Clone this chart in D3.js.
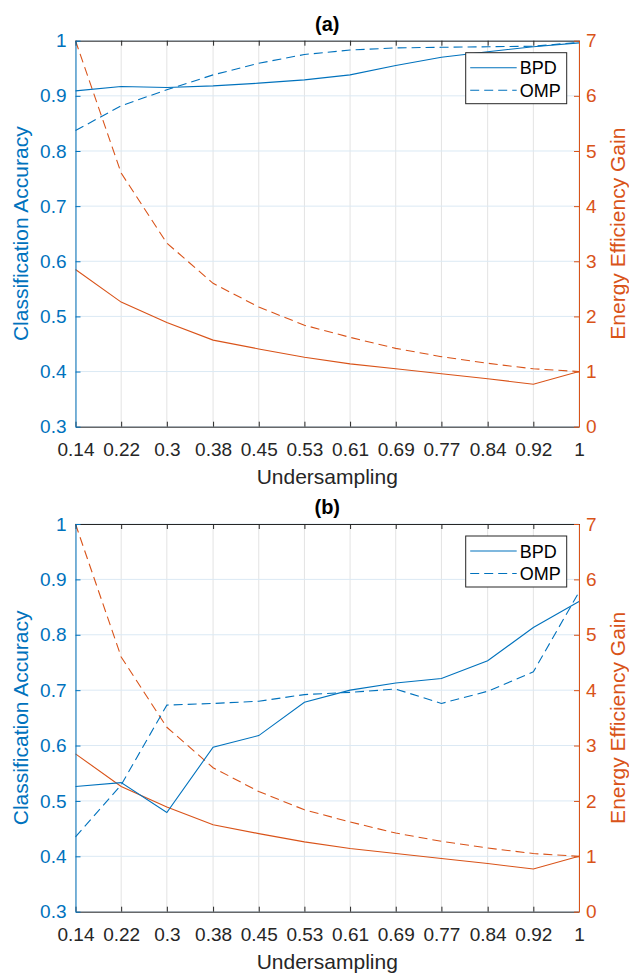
<!DOCTYPE html>
<html>
<head>
<meta charset="utf-8">
<script src="https://cdn.jsdelivr.net/npm/d3@7"></script>
<style>
  html, body { margin: 0; padding: 0; background: #fff; }
  svg { display: block; font-family: "Liberation Sans", Arial, sans-serif; }
</style>
</head>
<body>
<div id="main"></div>
<script>
// undersampling ratios (x positions) and their printed labels
const undersampling = [0.14, 0.218, 0.296, 0.375, 0.453, 0.531, 0.609, 0.687, 0.765, 0.844, 0.922, 1];
const xTickLabels = ['0.14', '0.22', '0.3', '0.38', '0.45', '0.53', '0.61', '0.69', '0.77', '0.84', '0.92', '1'];

// panel (a)
const accBpdA = [0.909, 0.917, 0.915, 0.918, 0.923, 0.929, 0.938, 0.955, 0.970, 0.980, 0.989, 0.996];
const accOmpA = [0.837, 0.882, 0.911, 0.938, 0.959, 0.975, 0.983, 0.987, 0.988, 0.989, 0.990, 0.997];
// panel (b)
const accBpdB = [0.526, 0.533, 0.479, 0.597, 0.618, 0.678, 0.700, 0.713, 0.721, 0.753, 0.813, 0.860];
const accOmpB = [0.435, 0.529, 0.673, 0.676, 0.680, 0.692, 0.696, 0.702, 0.676, 0.698, 0.733, 0.877];
// energy efficiency gain (same in both panels)
const gainBpd = [2.85, 2.26, 1.89, 1.57, 1.41, 1.26, 1.14, 1.05, 0.96, 0.87, 0.77, 1.0];
const gainOmp = [7.0, 4.6, 3.33, 2.60, 2.17, 1.84, 1.62, 1.42, 1.27, 1.15, 1.05, 1.0];

const accTicks = [0.3, 0.4, 0.5, 0.6, 0.7, 0.8, 0.9, 1];
const gainTicks = [0, 1, 2, 3, 4, 5, 6, 7];

const W = 629;
const H = 973;
const BLUE = '#0072BD';
const ORANGE = '#D95319';
const DARK = '#262626';

const svg = d3.select('#main').append('svg').attr('width', W).attr('height', H);

const left = 75.5;
const right = 579;

function drawPanel(title, top, bottom, accBpd, accOmp) {
  const g = svg.append('g');
  const x = d3.scaleLinear().domain([0.14, 1]).range([left, right]);
  const yAcc = d3.scaleLinear().domain([0.3, 1]).range([bottom, top]);
  const yGain = d3.scaleLinear().domain([0, 7]).range([bottom, top]);

  // grid
  g.selectAll('.vgrid').data(undersampling).enter().append('line')
    .attr('x1', (d) => x(d)).attr('x2', (d) => x(d))
    .attr('y1', top).attr('y2', bottom)
    .style('stroke', '#e3e3e3').style('stroke-width', 1);
  g.selectAll('.hgrid').data(accTicks).enter().append('line')
    .attr('x1', left).attr('x2', right)
    .attr('y1', (d) => yAcc(d)).attr('y2', (d) => yAcc(d))
    .style('stroke', '#dbe9f4').style('stroke-width', 1);

  // lines
  const mk = (yScale, vals) => d3.line().x((d, i) => x(undersampling[i])).y((d) => yScale(d))(vals);
  const series = [
    { vals: gainOmp, y: yGain, color: ORANGE, dash: '9,5' },
    { vals: gainBpd, y: yGain, color: ORANGE, dash: null },
    { vals: accOmp, y: yAcc, color: BLUE, dash: '9,5' },
    { vals: accBpd, y: yAcc, color: BLUE, dash: null },
  ];
  series.forEach((s) => {
    g.append('path').attr('d', mk(s.y, s.vals))
      .style('fill', 'none').style('stroke', s.color).style('stroke-width', 1.1)
      .style('stroke-dasharray', s.dash);
  });

  // bottom axis
  const xAxis = d3.axisBottom(x).tickValues(undersampling)
    .tickFormat((d, i) => xTickLabels[i]).tickSizeInner(-5).tickSizeOuter(0).tickPadding(16);
  const gx = g.append('g').attr('transform', `translate(0,${bottom})`).call(xAxis);
  gx.select('.domain').style('stroke', DARK);
  gx.selectAll('.tick line').style('stroke', DARK);
  gx.selectAll('text').style('font-size', '19px').style('fill', DARK);

  // top axis (ticks only)
  const xTop = d3.axisTop(x).tickValues(undersampling).tickFormat('').tickSizeInner(-5).tickSizeOuter(0);
  const gt = g.append('g').attr('transform', `translate(0,${top})`).call(xTop);
  gt.select('.domain').style('stroke', DARK);
  gt.selectAll('.tick line').style('stroke', DARK);

  // left axis
  const yAxisL = d3.axisLeft(yAcc).tickValues(accTicks).tickFormat((d) => String(+d.toFixed(1)))
    .tickSizeInner(-5).tickSizeOuter(0).tickPadding(9);
  const gl = g.append('g').attr('transform', `translate(${left},0)`).call(yAxisL);
  gl.select('.domain').style('stroke', BLUE);
  gl.selectAll('.tick line').style('stroke', BLUE);
  gl.selectAll('text').style('font-size', '19px').style('fill', BLUE);

  // right axis
  const yAxisR = d3.axisRight(yGain).tickValues(gainTicks).tickFormat(d3.format('d'))
    .tickSizeInner(-5).tickSizeOuter(0).tickPadding(7);
  const gr = g.append('g').attr('transform', `translate(${right},0)`).call(yAxisR);
  gr.select('.domain').style('stroke', ORANGE);
  gr.selectAll('.tick line').style('stroke', ORANGE);
  gr.selectAll('text').style('font-size', '19px').style('fill', ORANGE);

  // title
  g.append('text').attr('x', (left + right) / 2).attr('y', top - 10)
    .attr('text-anchor', 'middle').style('font-weight', 'bold').style('font-size', '20px')
    .style('fill', '#000').text(title);

  // axis labels
  g.append('text').attr('x', (left + right) / 2).attr('y', bottom + 57.5)
    .attr('text-anchor', 'middle').style('font-size', '21px').style('fill', DARK)
    .text('Undersampling');
  const mid = (top + bottom) / 2;
  g.append('text').attr('transform', `translate(28,${mid}) rotate(-90)`)
    .attr('text-anchor', 'middle').style('font-size', '21px').style('fill', BLUE)
    .text('Classification Accuracy');
  g.append('text').attr('transform', `translate(625,${mid}) rotate(-90)`)
    .attr('text-anchor', 'middle').style('font-size', '21px').style('fill', ORANGE)
    .text('Energy Efficiency Gain');

  // legend
  const lx = 465.7;
  const ly = top + 12;
  g.append('rect').attr('x', lx).attr('y', ly).attr('width', 101).attr('height', 51)
    .style('fill', '#fff').style('stroke', DARK).style('stroke-width', 1);
  [{ name: 'BPD', dash: null }, { name: 'OMP', dash: '9,5' }].forEach((e, i) => {
    const cy = ly + 15 + i * 22.5;
    g.append('line').attr('x1', lx + 4.5).attr('x2', lx + 51).attr('y1', cy).attr('y2', cy)
      .style('stroke', BLUE).style('stroke-width', 1.1).style('stroke-dasharray', e.dash);
    g.append('text').attr('x', lx + 54).attr('y', cy + 6.5)
      .style('font-size', '18px').style('fill', '#000').text(e.name);
  });
}

drawPanel('(a)', 40.7, 426.7, accBpdA, accOmpA);
drawPanel('(b)', 524, 911.7, accBpdB, accOmpB);
</script>
</body>
</html>
